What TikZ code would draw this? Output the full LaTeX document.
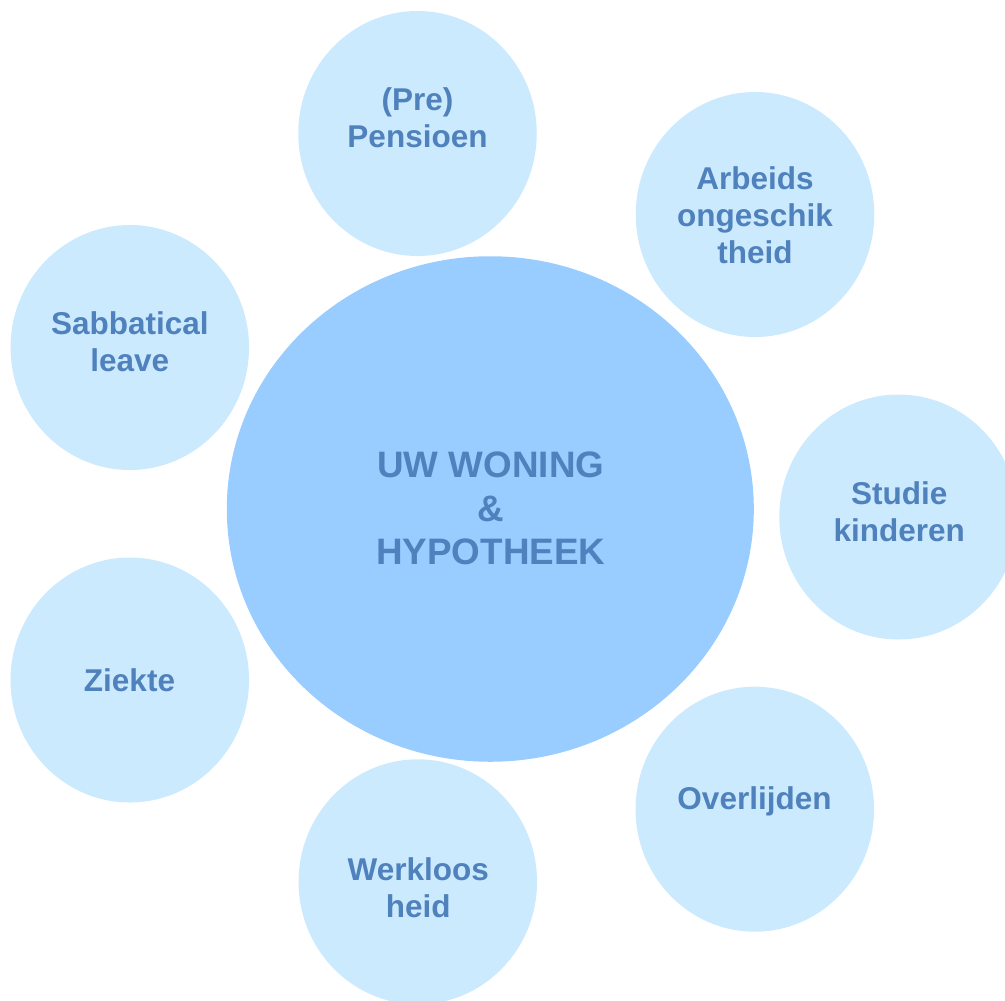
\documentclass[tikz,border=0pt]{standalone}
\usepackage{fontspec}
\setmainfont{Liberation Sans}
\usetikzlibrary{shapes.geometric}
\definecolor{txtblue}{HTML}{4F81BD}
\definecolor{smallfill}{HTML}{CCEAFE}
\definecolor{bigfill}{HTML}{99CCFF}
\tikzset{
  bubble/.style={ellipse, fill=smallfill, draw=none, inner sep=0pt,
    minimum width=238.5bp, minimum height=245bp},
  hub/.style={ellipse, fill=bigfill, draw=none, inner sep=0pt,
    minimum width=527bp, minimum height=505.5bp},
  smalltxt/.style={text=txtblue, align=center, inner sep=0pt,
    font=\fontsize{31.5bp}{37bp}\selectfont\bfseries},
  bigtxt/.style={text=txtblue, align=center, inner sep=0pt,
    font=\fontsize{36.8bp}{43.5bp}\selectfont\bfseries}
}
\begin{document}
\begin{tikzpicture}[x=1bp,y=-1bp]
\useasboundingbox (0,0) rectangle (1005,1001);
\clip (0,0) rectangle (1005,1001);
% circles
\node[hub] (hub) at (490.3,509) {};
\node[bubble] (pension) at (417.5,133.5) {};
\node[bubble] (arbeid) at (755,214.5) {};
\node[bubble] (sabbat) at (129.8,347.5) {};
\node[bubble] (studie) at (898.5,517) {};
\node[bubble] (ziekte) at (129.8,680) {};
\node[bubble] (overl) at (754.8,809.2) {};
\node[bubble] (werkl) at (417.8,881.8) {};
% labels
\node[bigtxt] (hubt) at (490.8,508.7) {UW WONING\\\&\\HYPOTHEEK};
\node[smalltxt] (pensiont) at (417.5,118) {(Pre)\\Pensioen};
\node[smalltxt] (arbeidt) at (755,215.5) {Arbeids\\ongeschik\\theid};
\node[smalltxt] (sabbatt) at (129.8,342.2) {Sabbatical\\leave};
\node[smalltxt] (studiet) at (899.2,511.8) {Studie\\kinderen};
\node[smalltxt] (ziektet) at (129.5,680.3) {Ziekte};
\node[smalltxt] (overlt) at (754.5,801.8) {Overlijden};
\node[smalltxt] (werklt) at (418.3,888.2) {Werkloos\\heid};
\end{tikzpicture}
\end{document}
